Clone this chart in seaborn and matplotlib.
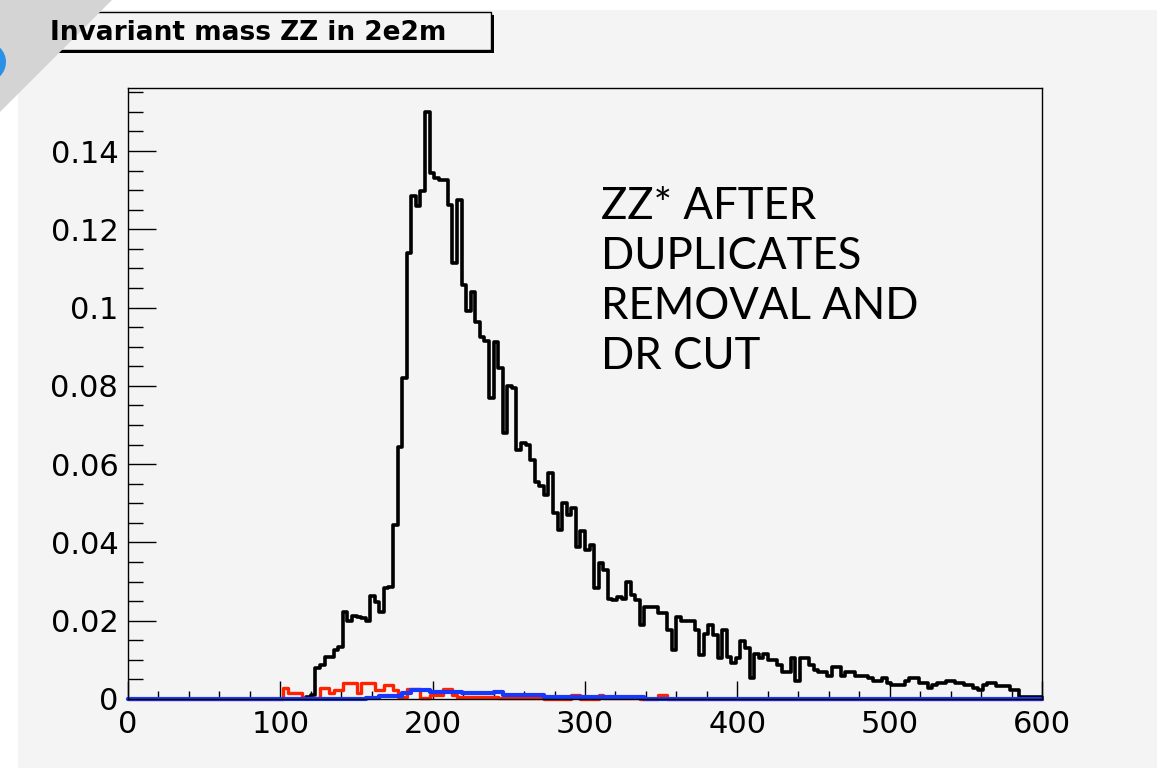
import matplotlib.pyplot as plt
import matplotlib.patches as mpatches
from matplotlib.ticker import MultipleLocator, FuncFormatter
import numpy as np
import pandas as pd
import seaborn as sns

# 200 bins of 3 GeV between 0 and 600
bin_edges = list(np.arange(0, 603, 3))
bin_centers = [e + 1.5 for e in bin_edges[:-1]]

# ZZ* after duplicates removal and DR cut (black)
zz_after = (
    [0.0] * 39
    + [0.0005, 0.001, 0.0078, 0.0087, 0.0108, 0.0108, 0.0125, 0.0134, 0.0223, 0.0200,
       0.0212, 0.0210, 0.0208, 0.0200, 0.0263, 0.0249, 0.0223, 0.0283, 0.0285, 0.0444,
       0.0645, 0.0820, 0.1140, 0.1285, 0.1260, 0.1298, 0.1500, 0.1345, 0.1330, 0.1325,
       0.1325, 0.1262, 0.1113, 0.1275, 0.1058, 0.0990, 0.1040, 0.0964, 0.0926, 0.0915,
       0.0770, 0.0913, 0.0845, 0.0680, 0.0800, 0.0794, 0.0635, 0.0653, 0.0650, 0.0610,
       0.0555, 0.0545, 0.0521, 0.0577, 0.0474, 0.0432, 0.0500, 0.0470, 0.0487, 0.0389,
       0.0428, 0.0380, 0.0393, 0.0283, 0.0347, 0.0330, 0.0255, 0.0253, 0.0260, 0.0256,
       0.0300, 0.0265, 0.0253, 0.0189, 0.0236, 0.0236, 0.0236, 0.0219, 0.0219, 0.0176,
       0.0125, 0.0210, 0.0198, 0.0198, 0.0198, 0.0176, 0.0112, 0.0165, 0.0189, 0.0163,
       0.0104, 0.0176, 0.0108, 0.0091, 0.0104, 0.0147, 0.0130, 0.0053, 0.0116, 0.0105,
       0.0116, 0.0099, 0.0099, 0.0087, 0.0070, 0.0070, 0.0104, 0.0045, 0.0104, 0.0104,
       0.0087, 0.0075, 0.0070, 0.0070, 0.0058, 0.0083, 0.0083, 0.0060, 0.0070, 0.0070,
       0.0060, 0.0060, 0.0060, 0.0053, 0.0045, 0.0045, 0.0053, 0.0040, 0.0036, 0.0036,
       0.0036, 0.0045, 0.0053, 0.0053, 0.0040, 0.0040, 0.0028, 0.0036, 0.0040, 0.0040,
       0.0045, 0.0045, 0.0040, 0.0040, 0.0036, 0.0036, 0.0028, 0.0023, 0.0036, 0.0040,
       0.0040, 0.0032, 0.0032, 0.0032, 0.0023, 0.0023, 0.0006, 0.0006, 0.0006, 0.0006,
       0.0006]
)

# red histogram
zz_red = (
    [0.0] * 34
    + [0.0027, 0.0015, 0.0015, 0.0015, 0.0003, 0.0003, 0.0003, 0.0003, 0.0027, 0.0027,
       0.0015, 0.0023, 0.0023, 0.0040, 0.0040, 0.0040, 0.0015, 0.0040, 0.0040, 0.0040,
       0.0023, 0.0023, 0.0036, 0.0036, 0.0023, 0.0005, 0.0005, 0.0025, 0.0025, 0.0025,
       0.0003, 0.0003, 0.0010, 0.0010, 0.0010, 0.0025, 0.0025, 0.0009]
    + [0.0006] * 9
    + [0.0002] * 10
    + [0.0] * 6
    + [0.0010, 0.0010]
    + [0.0] * 4
    + [0.0010]
    + [0.0002] * 8
    + [0.0] * 4
    + [0.0010, 0.0010]
    + [0.0] * 82
)

# blue histogram
zz_blue = (
    [0.0] * 52
    + [0.0003] * 3
    + [0.0008] * 5
    + [0.0015] * 2
    + [0.0023] * 4
    + [0.0019] * 7
    + [0.0015] * 7
    + [0.0019] * 2
    + [0.0010] * 9
    + [0.0006] * 22
    + [0.0] * 87
)

y_ticks = [0, 0.02, 0.04, 0.06, 0.08, 0.1, 0.12, 0.14]
x_ticks = [0, 100, 200, 300, 400, 500, 600]

W, H = 1165, 768
BG = '#f4f4f4'

sns.set_theme(style='white')
plt.rcParams['font.family'] = ['DejaVu Sans']
plt.rcParams['text.color'] = 'black'

fig = plt.figure(figsize=(W / 100, H / 100), dpi=100)
fig.patch.set_facecolor('white')

# ROOT canvas area
fig.patches.append(mpatches.Rectangle((18 / W, 0), (1157 - 18) / W, 1 - 10 / H,
                                      transform=fig.transFigure, facecolor=BG,
                                      edgecolor='none', zorder=-10))

ax = fig.add_axes([128 / W, 1 - 699 / H, (1042 - 128) / W, (699 - 88) / H])
ax.set_facecolor(BG)

df = pd.DataFrame({'mass': bin_centers, 'after': zz_after, 'red': zz_red, 'blue': zz_blue})

# black first, then red, blue on top (as in the ROOT canvas)
sns.histplot(data=df, x='mass', weights='after', bins=bin_edges, element='step',
             fill=False, color='black', linewidth=2.6, ax=ax)
sns.histplot(data=df, x='mass', weights='red', bins=bin_edges, element='step',
             fill=False, color='#ff2200', linewidth=2.4, ax=ax)
sns.histplot(data=df, x='mass', weights='blue', bins=bin_edges, element='step',
             fill=False, color='#1638ff', linewidth=3.0, ax=ax)
for line in ax.lines:
    line.set_clip_on(False)

ax.set_xlim(0, 600)
ax.set_ylim(0, 0.1561)
ax.set_xlabel('')
ax.set_ylabel('')
ax.set_xticks(x_ticks)
ax.set_yticks(y_ticks)
ax.xaxis.set_minor_locator(MultipleLocator(20))
ax.yaxis.set_minor_locator(MultipleLocator(0.005))
ax.yaxis.set_major_formatter(FuncFormatter(lambda v, p: f'{v:g}'))

ax.tick_params(axis='x', which='major', direction='in', length=13, width=1, pad=8,
               labelsize=22, colors='black', labelcolor='black', bottom=True)
ax.tick_params(axis='x', which='minor', direction='in', length=6, width=1, bottom=True,
               colors='black')
ax.tick_params(axis='y', which='major', direction='in', length=20, width=1, pad=7,
               labelsize=22, colors='black', labelcolor='black', left=True)
ax.tick_params(axis='y', which='minor', direction='in', length=10.5, width=1, left=True,
               colors='black')
for s in ax.spines.values():
    s.set_color('black')
    s.set_linewidth(1.0)

# title box with shadow
fig.patches.append(mpatches.Rectangle((43 / W, 1 - 53 / H), 451 / W, 38 / H,
                                      transform=fig.transFigure, facecolor='black',
                                      edgecolor='none', zorder=1))
fig.patches.append(mpatches.Rectangle((40 / W, 1 - 50 / H), 451 / W, 38 / H,
                                      transform=fig.transFigure, facecolor=BG,
                                      edgecolor='black', linewidth=1.0, zorder=2))

# slide corner decoration
fig.patches.append(mpatches.Polygon([(0, 1), (112 / W, 1), (0, 1 - 112 / H)],
                                    closed=True, transform=fig.transFigure,
                                    facecolor='#d4d4d4', edgecolor='none', zorder=3))
fig.patches.append(mpatches.Ellipse((-14 / W, 1 - 62 / H), 40 / W, 40 / H,
                                    transform=fig.transFigure, facecolor='#2a90e8',
                                    edgecolor='none', zorder=3))

fig.text(50 / W, 1 - 33 / H, 'Invariant mass ZZ in 2e2m', fontsize=19,
         fontweight='bold', va='center', ha='left', color='black', zorder=4)

fig.text(601 / W, 1 - 186 / H, 'ZZ* AFTER\nDUPLICATES\nREMOVAL AND\nDR CUT',
         fontsize=31.5, family=['Lato', 'DejaVu Sans'], va='top', ha='left',
         linespacing=1.27, color='black', zorder=4)

fig.savefig('out.png', dpi=100, facecolor='white')
